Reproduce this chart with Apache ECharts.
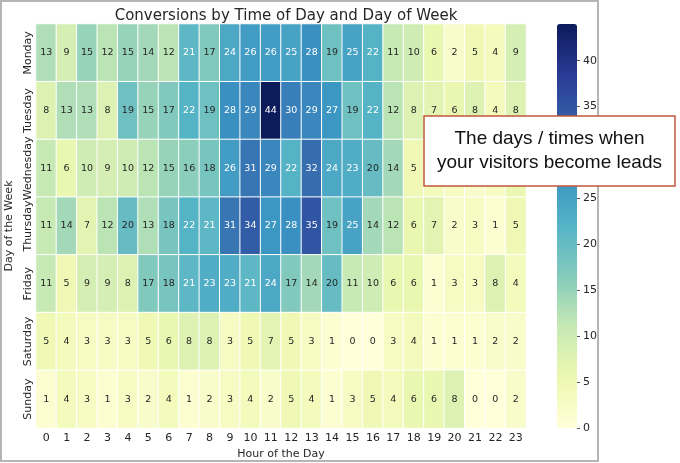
<!DOCTYPE html>
<html>
<head>
<meta charset="utf-8">
<script src="https://cdn.jsdelivr.net/npm/echarts@6/dist/echarts.min.js"></script>
<style>
  html, body { margin: 0; padding: 0; background: #fff; }
  #chart { width: 680px; height: 463px; }
</style>
</head>
<body>
<div id="chart"></div>
<script>
// hours on x, days on y
const hours = ['0','1','2','3','4','5','6','7','8','9','10','11','12','13','14','15','16','17','18','19','20','21','22','23'];
const days = ['Monday', 'Tuesday', 'Wednesday', 'Thursday', 'Friday', 'Saturday', 'Sunday'];

const monday    = [13, 9, 15, 12, 15, 14, 12, 21, 17, 24, 26, 26, 25, 28, 19, 25, 22, 11, 10, 6, 2, 5, 4, 9];
const tuesday   = [8, 13, 13, 8, 19, 15, 17, 22, 19, 28, 29, 44, 30, 29, 27, 19, 22, 12, 8, 7, 6, 8, 4, 8];
// last five hidden behind the callout, estimated
const wednesday = [11, 6, 10, 9, 10, 12, 15, 16, 18, 26, 31, 29, 22, 32, 24, 23, 20, 14, 5, 4, 3, 2, 3, 6];
const thursday  = [11, 14, 7, 12, 20, 13, 18, 22, 21, 31, 34, 27, 28, 35, 19, 25, 14, 12, 6, 7, 2, 3, 1, 5];
const friday    = [11, 5, 9, 9, 8, 17, 18, 21, 23, 23, 21, 24, 17, 14, 20, 11, 10, 6, 6, 1, 3, 3, 8, 4];
const saturday  = [5, 4, 3, 3, 3, 5, 6, 8, 8, 3, 5, 7, 5, 3, 1, 0, 0, 3, 4, 1, 1, 1, 2, 2];
const sunday    = [1, 4, 3, 1, 3, 2, 4, 1, 2, 3, 4, 2, 5, 4, 1, 3, 5, 4, 6, 6, 8, 0, 0, 2];

const colorbarStep = 5;
const colorMax = 44;

const rows = [monday, tuesday, wednesday, thursday, friday, saturday, sunday];
const data = [];
rows.forEach((row, d) => {
  row.forEach((v, h) => {
    data.push({ value: [h, d, v], label: { color: v >= 21 ? '#ffffff' : '#262626' } });
  });
});

// YlGnBu, blues a bit washed out like the picture
const ylgnbu = ['#ffffd9', '#edf8b1', '#c7e9b4', '#85cbbb', '#55b3c6', '#3b94c3', '#3464aa', '#2a3a95', '#0c1b5a'];
const font = 'DejaVu Sans';

const chart = echarts.init(document.getElementById('chart'));
chart.setOption({
  animation: false,
  backgroundColor: '#fff',
  title: {
    text: 'Conversions by Time of Day and Day of Week',
    left: 281, top: 4, textAlign: 'center',
    textStyle: { fontFamily: font, fontSize: 15, fontWeight: 'normal', color: '#262626' }
  },
  grid: [
    { left: 36, right: 154, top: 24, bottom: 35, outerBoundsMode: 'none' },
    // colorbar axis sits on the right edge of the bar
    { left: 577, width: 20, top: 24, bottom: 35, outerBoundsMode: 'none' }
  ],
  xAxis: [
    {
      type: 'category', data: hours, gridIndex: 0,
      name: 'Hour of the Day', nameLocation: 'middle', nameGap: 20,
      nameTextStyle: { fontFamily: font, fontSize: 11, color: '#262626' },
      axisLine: { show: false },
      axisTick: { alignWithLabel: true, length: 3, lineStyle: { color: '#555' } },
      axisLabel: { fontFamily: font, fontSize: 11, color: '#262626', margin: 5, interval: 0 },
      splitArea: { show: false }
    },
    {
      type: 'value', gridIndex: 1, min: 0, max: 1,
      axisLine: { show: false }, axisTick: { show: false }, axisLabel: { show: false }, splitLine: { show: false }
    }
  ],
  yAxis: [
    {
      type: 'category', data: days, gridIndex: 0, inverse: true,
      name: 'Day of the Week', nameLocation: 'middle', nameGap: 19, nameRotate: 90,
      nameTextStyle: { fontFamily: font, fontSize: 11, color: '#262626' },
      axisLine: { show: false },
      axisTick: { alignWithLabel: true, length: 3, lineStyle: { color: '#555' } },
      axisLabel: { fontFamily: font, fontSize: 11, color: '#262626', rotate: 90, margin: 2, interval: 0 }
    },
    {
      type: 'value', gridIndex: 1, position: 'left', min: 0, max: colorMax, interval: colorbarStep,
      axisLine: { show: false },
      splitLine: { show: false },
      axisTick: { show: true, inside: true, length: 3, lineStyle: { color: '#555', width: 1 } },
      axisLabel: { inside: true, fontFamily: font, fontSize: 11, color: '#262626', margin: 6, showMaxLabel: false }
    }
  ],
  visualMap: {
    type: 'continuous', min: 0, max: colorMax, seriesIndex: 0,
    calculable: false, text: ['', ''], showLabel: false,
    left: 557, top: 24, padding: 0,
    itemWidth: 20, itemHeight: 404,
    inRange: { color: ylgnbu }
  },
  series: [
    {
      type: 'heatmap', xAxisIndex: 0, yAxisIndex: 0,
      data: data,
      itemStyle: { borderColor: '#ffffff', borderWidth: 1 },
      label: { show: true, fontFamily: font, fontSize: 9.5 },
      emphasis: { disabled: true }
    }
  ],
  graphic: [
    {
      type: 'rect', z: 0, silent: true,
      shape: { x: 1, y: 1, width: 597, height: 460 },
      style: { fill: 'none', stroke: '#b5b5b5', lineWidth: 2 }
    },
    {
      type: 'rect', z: 100, zlevel: 1, silent: true,
      shape: { x: 424, y: 116, width: 251, height: 70 },
      style: { fill: '#ffffff', stroke: '#c0583c', lineWidth: 1.5 }
    },
    {
      type: 'text', z: 101, zlevel: 1, silent: true,
      x: 549.5, y: 151,
      style: {
        text: 'The days / times when\nyour visitors become leads',
        align: 'center', verticalAlign: 'middle',
        fontFamily: 'Liberation Sans', fontSize: 19, lineHeight: 24, fill: '#111'
      }
    }
  ]
});
</script>
</body>
</html>
